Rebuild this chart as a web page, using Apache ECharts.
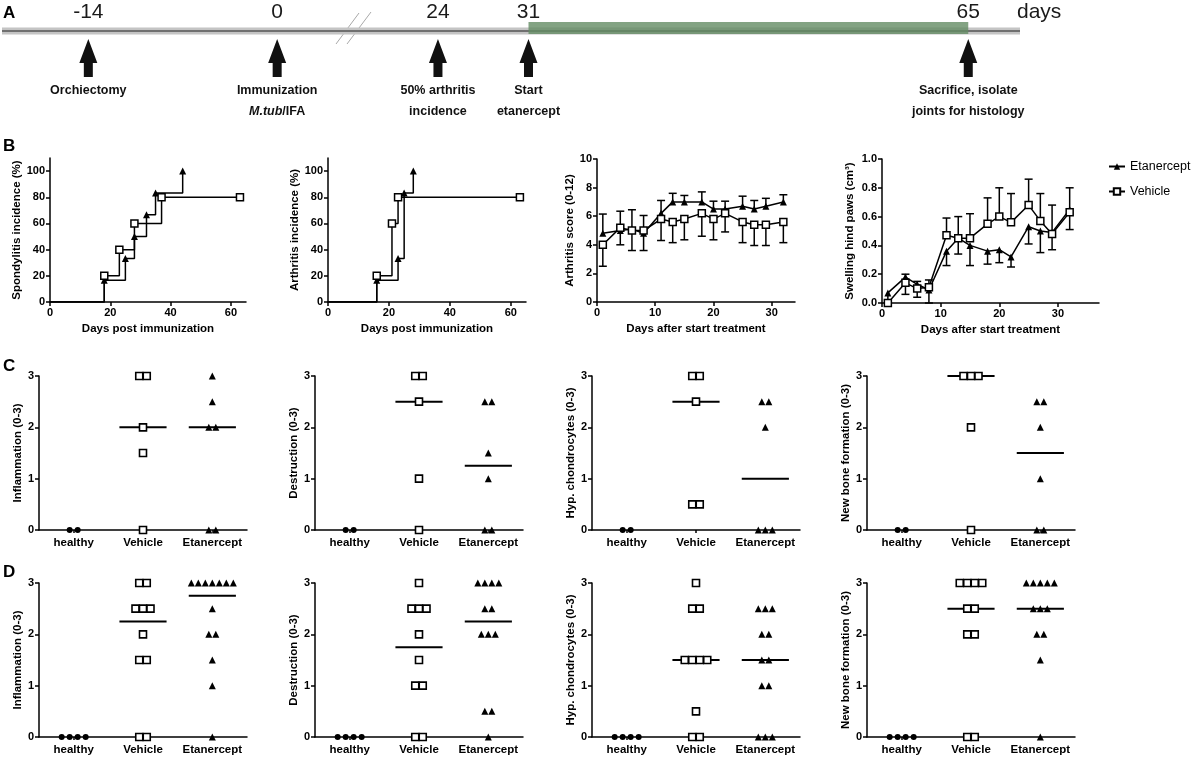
<!DOCTYPE html>
<html lang="en">
<head>
<meta charset="utf-8">
<title>Etanercept treatment study</title>
<script src="https://cdn.jsdelivr.net/npm/echarts@6.0.0/dist/echarts.min.js"></script>
</head>
<body style="margin: 0; background: #fff">
<div id="main" style="width: 1192px; height: 758px"></div>
<script type="text/javascript">
const FONT = "'Liberation Sans', Arial, sans-serif";

// ---- A: timeline ----
const timelineDays = [-14, 0, 24, 31, 65];
const timelineNotes = ['Orchiectomy', 'Immunization\n{i|M.tub}/IFA', '50% arthritis\nincidence',
  'Start\netanercept', 'Sacrifice, isolate\njoints for histology'];
const treatmentDays = [31, 65];

// ---- B: incidence curves ----
const spondDaysEtan = [0, 18, 25, 28, 32, 35, 44];
const spondEtan = [0, 16.7, 33.3, 50, 66.7, 83.3, 100];
const spondDaysVeh = [0, 18, 23, 28, 37, 63];
const spondVeh = [0, 20, 40, 60, 80, 80];
const arthDaysEtan = [0, 16, 23, 25, 28];
const arthEtan = [0, 16.7, 33.3, 83.3, 100];
const arthDaysVeh = [0, 16, 21, 23, 63];
const arthVeh = [0, 20, 60, 80, 80];

// ---- B: scores during treatment (mean, sem) ----
const treatDays = [1, 4, 6, 8, 11, 13, 15, 18, 20, 22, 25, 27, 29, 32];
const scoreEtan = [4.8, 5.0, 5.1, 4.8, 6.2, 7.0, 7.0, 7.0, 6.5, 6.5, 6.7, 6.5, 6.7, 7.0];
const scoreEtanSem = [1.35, 1.35, 1.35, 1.25, 0.9, 0.6, 0.45, 0.7, 0.55, 0.55, 0.7, 0.6, 0.55, 0.5];
const scoreVeh = [4.0, 5.2, 5.0, 5.0, 5.8, 5.6, 5.8, 6.2, 5.8, 6.2, 5.6, 5.4, 5.4, 5.6];
const scoreVehSem = [1.5, 1.2, 1.4, 1.4, 1.5, 1.45, 1.45, 1.6, 1.45, 1.3, 1.45, 1.45, 1.45, 1.45];
const swellEtan = [0.07, 0.18, 0.13, 0.09, 0.36, 0.45, 0.40, 0.36, 0.37, 0.32, 0.53, 0.50, 0.49, 0.65];
const swellEtanSem = [0.07, 0.12, 0.09, 0.09, 0.10, 0.11, 0.14, 0.09, 0.09, 0.07, 0.12, 0.15, 0.12, 0.14];
const swellVeh = [0.0, 0.14, 0.10, 0.11, 0.47, 0.45, 0.45, 0.55, 0.60, 0.56, 0.68, 0.57, 0.48, 0.63];
const swellVehSem = [0.0, 0.06, 0.05, 0.05, 0.12, 0.15, 0.17, 0.18, 0.20, 0.20, 0.18, 0.19, 0.20, 0.17];

// ---- C / D: histology scores per animal ----
const groups = ['healthy', 'Vehicle', 'Etanercept'];
const cInflammation = [[0, 0], [3, 3, 2, 1.5, 0], [3, 2.5, 2, 2, 0, 0]];
const cDestruction = [[0, 0], [3, 3, 2.5, 1, 0], [2.5, 2.5, 1.5, 1, 0, 0]];
const cChondro = [[0, 0], [3, 3, 2.5, 0.5, 0.5], [2.5, 2.5, 2, 0, 0, 0]];
const cBone = [[0, 0], [3, 3, 3, 2, 0], [2.5, 2.5, 2, 1, 0, 0]];
const cMedians = [[null, 2, 2], [null, 2.5, 1.25], [null, 2.5, 1], [null, 3, 1.5]];
const dInflammation = [[0, 0, 0, 0], [3, 3, 2.5, 2.5, 2.5, 2, 1.5, 1.5, 0, 0],
  [3, 3, 3, 3, 3, 3, 3, 2.5, 2, 2, 1.5, 1, 0]];
const dDestruction = [[0, 0, 0, 0], [3, 2.5, 2.5, 2.5, 2, 1.5, 1, 1, 0, 0],
  [3, 3, 3, 3, 2.5, 2.5, 2, 2, 2, 0.5, 0.5, 0]];
const dChondro = [[0, 0, 0, 0], [3, 2.5, 2.5, 1.5, 1.5, 1.5, 1.5, 0.5, 0, 0],
  [2.5, 2.5, 2.5, 2, 2, 1.5, 1.5, 1, 1, 0, 0, 0]];
const dBone = [[0, 0, 0, 0], [3, 3, 3, 3, 2.5, 2.5, 2, 2, 0, 0],
  [3, 3, 3, 3, 3, 2.5, 2.5, 2.5, 2, 2, 1.5, 0]];
const dMedians = [[null, 2.25, 2.75], [null, 1.75, 2.25], [null, 1.5, 1.5], [null, 2.5, 2.5]];
const histoNames = ['Inflammation (0-3)', 'Destruction (0-3)', 'Hyp. chondrocytes (0-3)', 'New bone formation (0-3)'];

const grids = [], xAxes = [], yAxes = [], series = [];

function addGrid(rect, xa, ya) {
  grids.push(rect);
  const i = grids.length - 1;
  xAxes.push(Object.assign({ gridIndex: i }, xa));
  yAxes.push(Object.assign({ gridIndex: i }, ya));
  return i;
}

function axis(o) {
  return {
    type: 'value', min: o.min, max: o.max, interval: o.interval,
    name: o.name, nameLocation: 'middle', nameGap: o.nameGap,
    nameTextStyle: { color: '#000', fontFamily: FONT, fontWeight: 'bold', fontSize: 11.5 },
    axisLine: { show: true, onZero: false, lineStyle: { color: '#000', width: 1.5 } },
    axisTick: { show: true, length: o.tickLen || 4, customValues: o.ticks, lineStyle: { color: '#000', width: 1.5 } },
    axisLabel: {
      color: '#000', fontFamily: FONT, fontWeight: 'bold', fontSize: o.fontSize || 11,
      margin: o.margin || 5, customValues: o.ticks, formatter: o.formatter
    },
    splitLine: { show: false }
  };
}

const lineItem = {
  Etanercept: { symbol: 'triangle', symbolSize: 7, itemStyle: { color: '#000' } },
  Vehicle: { symbol: 'rect', symbolSize: 7, itemStyle: { color: '#fff', borderColor: '#000', borderWidth: 1.5 } }
};

function curve(name, days, vals, g, step) {
  const look = lineItem[name];
  return {
    name: name, type: 'line', step: step ? 'end' : false, xAxisIndex: g, yAxisIndex: g, z: 3,
    data: days.map((d, i) => [d, vals[i]]),
    symbol: look.symbol,
    symbolSize: v => (step && v[0] === 0) ? 0 : look.symbolSize,
    itemStyle: look.itemStyle,
    lineStyle: { color: '#000', width: 1.5 }
  };
}

function errorBars(days, vals, sem, dir, g) {
  return {
    type: 'custom', xAxisIndex: g, yAxisIndex: g, z: 2,
    data: days.map((d, i) => [d, vals[i], vals[i] + dir * sem[i]]),
    renderItem: (params, api) => {
      const p0 = api.coord([api.value(0), api.value(1)]);
      const p1 = api.coord([api.value(0), api.value(2)]);
      const st = { stroke: '#000', lineWidth: 1.5 };
      return {
        type: 'group', children: [
          { type: 'line', shape: { x1: p0[0], y1: p0[1], x2: p1[0], y2: p1[1] }, style: st },
          { type: 'line', shape: { x1: p1[0] - 4, y1: p1[1], x2: p1[0] + 4, y2: p1[1] }, style: st }
        ]
      };
    }
  };
}

// ---- A ----
const ARROW = 'path://M9 0 L18 24 L13.5 24 L13.5 38 L4.5 38 L4.5 24 L0 24 Z';
const tlAxes = [{ min: -20.4, max: 5.4 }, { min: 17.2, max: 69 }];
const tlRects = [{ left: 2, top: 0, width: 348, height: 124 }, { left: 350, top: 0, width: 670, height: 124 }];
const noteStyle = { fontFamily: FONT, fontWeight: 'bold', fontSize: 12.5, lineHeight: 21, color: '#111' };
tlRects.forEach((r, k) => {
  const g = addGrid(r,
    { type: 'value', min: tlAxes[k].min, max: tlAxes[k].max, show: false },
    { type: 'value', min: -3, max: 1, show: false });
  const ends = [[tlAxes[k].min, 0], [tlAxes[k].max, 0]];
  series.push({ type: 'line', xAxisIndex: g, yAxisIndex: g, symbol: 'none', data: ends,
    lineStyle: { color: '#c4c4c4', width: 7, cap: 'butt' } });
  series.push({ type: 'line', xAxisIndex: g, yAxisIndex: g, symbol: 'none', data: ends,
    lineStyle: { color: '#707070', width: 2, cap: 'butt' } });
  const idx = timelineDays.map((d, i) => i).filter(i => (timelineDays[i] < 10) === (k === 0));
  series.push({
    type: 'scatter', xAxisIndex: g, yAxisIndex: g, symbol: ARROW, symbolSize: [18, 38],
    itemStyle: { color: '#111', opacity: 1 },
    label: Object.assign({ show: true, position: 'bottom', distance: 3, align: 'center',
      rich: { i: Object.assign({ fontStyle: 'italic' }, noteStyle) } }, noteStyle),
    data: idx.map(i => ({ value: [timelineDays[i], -0.87], label: { formatter: timelineNotes[i] } }))
  });
  series.push({
    type: 'scatter', xAxisIndex: g, yAxisIndex: g, symbol: 'rect', symbolSize: 1,
    itemStyle: { color: 'rgba(0,0,0,0)', opacity: 1 },
    label: { show: true, position: 'inside', fontFamily: FONT, fontSize: 21, color: '#1a1a1a',
      formatter: p => String(p.value[0]) },
    data: idx.map(i => [timelineDays[i], 0.6])
  });
  if (k === 1) {
    series.push({ type: 'line', xAxisIndex: g, yAxisIndex: g, symbol: 'none',
      data: treatmentDays.map(d => [d, 0.1]),
      lineStyle: { color: 'rgba(100,140,100,0.8)', width: 12, cap: 'butt' } });
  }
});

// ---- B ----
const gB1 = addGrid({ left: 50, top: 158, width: 196, height: 144 },
  axis({ min: 0, max: 65, ticks: [0, 20, 40, 60], name: 'Days post immunization', nameGap: 21 }),
  axis({ min: 0, max: 110, ticks: [0, 20, 40, 60, 80, 100], name: 'Spondylitis incidence (%)', nameGap: 26 }));
series.push(curve('Etanercept', spondDaysEtan, spondEtan, gB1, true));
series.push(curve('Vehicle', spondDaysVeh, spondVeh, gB1, true));

const gB2 = addGrid({ left: 328, top: 158, width: 198, height: 144 },
  axis({ min: 0, max: 65, ticks: [0, 20, 40, 60], name: 'Days post immunization', nameGap: 21 }),
  axis({ min: 0, max: 110, ticks: [0, 20, 40, 60, 80, 100], name: 'Arthritis incidence (%)', nameGap: 24 }));
series.push(curve('Etanercept', arthDaysEtan, arthEtan, gB2, true));
series.push(curve('Vehicle', arthDaysVeh, arthVeh, gB2, true));

const gB3 = addGrid({ left: 597, top: 159, width: 198, height: 143 },
  axis({ min: 0, max: 34, ticks: [0, 10, 20, 30], name: 'Days after start treatment', nameGap: 21 }),
  axis({ min: 0, max: 10, interval: 2, name: 'Arthritis score (0-12)', nameGap: 19 }));
series.push(errorBars(treatDays, scoreEtan, scoreEtanSem, 1, gB3));
series.push(errorBars(treatDays, scoreVeh, scoreVehSem, -1, gB3));
series.push(curve('Etanercept', treatDays, scoreEtan, gB3, false));
series.push(curve('Vehicle', treatDays, scoreVeh, gB3, false));

const gB4 = addGrid({ left: 882, top: 159, width: 217, height: 144 },
  axis({ min: 0, max: 37, ticks: [0, 10, 20, 30], name: 'Days after start treatment', nameGap: 21 }),
  axis({ min: 0, max: 1, interval: 0.2, name: 'Swelling hind paws (cm³)', nameGap: 26,
    formatter: v => v.toFixed(1) }));
series.push(errorBars(treatDays, swellEtan, swellEtanSem, -1, gB4));
series.push(errorBars(treatDays, swellVeh, swellVehSem, 1, gB4));
series.push(curve('Etanercept', treatDays, swellEtan, gB4, false));
series.push(curve('Vehicle', treatDays, swellVeh, gB4, false));

// ---- C / D ----
const histoLefts = [39, 315, 592, 867];
const HISTO_W = 208;
const groupLook = [
  { symbol: 'circle', size: 6, gap: 8, itemStyle: { color: '#000', opacity: 1 } },
  { symbol: 'rect', size: 7, gap: 7.5, itemStyle: { color: '#fff', borderColor: '#000', borderWidth: 1.6, opacity: 1 } },
  { symbol: 'triangle', size: 7, gap: 7, itemStyle: { color: '#000', opacity: 1 } }
];

// identical scores sit side by side, centred on the group
function spread(values, g) {
  const unit = HISTO_W / 3;
  const counts = {}, seen = {};
  values.forEach(v => { counts[v] = (counts[v] || 0) + 1; });
  return values.map(v => {
    seen[v] = seen[v] === undefined ? 0 : seen[v] + 1;
    return [g + 1 + (seen[v] - (counts[v] - 1) / 2) * groupLook[g].gap / unit, v];
  });
}

const histoRows = [
  { top: 376, sets: [cInflammation, cDestruction, cChondro, cBone], medians: cMedians },
  { top: 583, sets: [dInflammation, dDestruction, dChondro, dBone], medians: dMedians }
];
histoRows.forEach(row => {
  row.sets.forEach((set, c) => {
    const g = addGrid({ left: histoLefts[c], top: row.top, width: HISTO_W, height: 154 },
      axis({ min: 0.5, max: 3.5, ticks: [1, 2, 3], tickLen: 3, fontSize: 11.5, margin: 7,
        formatter: v => groups[Math.round(v) - 1] }),
      axis({ min: 0, max: 3, interval: 1, name: histoNames[c], nameGap: 15 }));
    series.push({
      type: 'custom', xAxisIndex: g, yAxisIndex: g, z: 2,
      data: row.medians[c].map((m, i) => [i + 1, m]).filter(p => p[1] !== null),
      renderItem: (params, api) => {
        const a = api.coord([api.value(0) - 0.34, api.value(1)]);
        const b = api.coord([api.value(0) + 0.34, api.value(1)]);
        return { type: 'line', shape: { x1: a[0], y1: a[1], x2: b[0], y2: b[1] },
          style: { stroke: '#000', lineWidth: 2 } };
      }
    });
    set.forEach((vals, gi) => {
      series.push({
        type: 'scatter', xAxisIndex: g, yAxisIndex: g, z: 3,
        symbol: groupLook[gi].symbol, symbolSize: groupLook[gi].size,
        itemStyle: groupLook[gi].itemStyle,
        data: spread(vals, gi)
      });
    });
  });
});

const letter = (t, x, y) => ({ type: 'text', x: x, y: y,
  style: { text: t, fill: '#000', font: 'bold 17px ' + FONT, align: 'left', verticalAlign: 'middle' } });

const chart = echarts.init(document.getElementById('main'));
chart.setOption({
  animation: false,
  textStyle: { fontFamily: FONT },
  grid: grids,
  xAxis: xAxes,
  yAxis: yAxes,
  legend: {
    data: ['Etanercept', 'Vehicle'], orient: 'vertical', left: 1103, top: 155,
    itemWidth: 16, itemHeight: 8, itemGap: 12, selectedMode: false,
    textStyle: { fontFamily: FONT, fontSize: 12.5, color: '#000' }
  },
  graphic: [
    letter('A', 3, 13), letter('B', 3, 146), letter('C', 3, 366), letter('D', 3, 572),
    { type: 'text', x: 1017, y: 12,
      style: { text: 'days', fill: '#1a1a1a', font: '21px ' + FONT, align: 'left', verticalAlign: 'middle' } },
    { type: 'line', shape: { x1: 336, y1: 44, x2: 359, y2: 13 }, style: { stroke: '#a8a8a8', lineWidth: 1 } },
    { type: 'line', shape: { x1: 347, y1: 44, x2: 371, y2: 12 }, style: { stroke: '#a8a8a8', lineWidth: 1 } }
  ],
  series: series
});
</script>
</body>
</html>
